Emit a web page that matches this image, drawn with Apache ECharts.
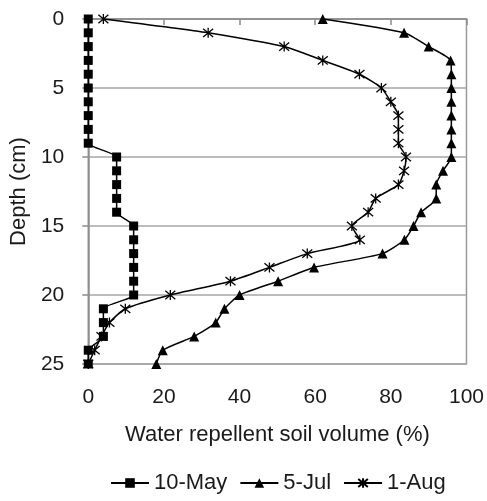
<!DOCTYPE html>
<html>
<head>
<meta charset="utf-8">
<script src="https://cdn.jsdelivr.net/npm/echarts@6/dist/echarts.min.js"></script>
<style>
  html, body { margin: 0; padding: 0; background: #fff; }
  #chart { width: 487px; height: 501px; }
</style>
</head>
<body>
<div id="chart"></div>
<script>
// depth (cm) of each sample, 0..25
var depths = [0, 1, 2, 3, 4, 5, 6, 7, 8, 9, 10, 11, 12, 13, 14, 15, 16, 17, 18, 19, 20, 21, 22, 23, 24, 25];
// water repellent soil volume (%) per depth
var may10 = [0, 0, 0, 0, 0, 0, 0, 0, 0, 0, 7.5, 7.5, 7.5, 7.5, 7.5, 12, 12, 12, 12, 12, 12, 4, 4, 4, 0, 0];
var jul5 = [62, 83.5, 90, 95.8, 96, 96, 96, 96, 96, 96, 96, 93.8, 92, 92, 88, 86, 83.6, 77.8, 59.7, 50.2, 40, 36, 33.7, 28, 19.7, 18];
var aug1 = [4, 31.7, 51.8, 62, 71.7, 77.5, 80, 82, 82, 82, 84, 83.5, 82, 76, 74, 69.7, 71.8, 57.9, 47.9, 37.6, 21.7, 9.8, 5.6, 3.5, 1.7, 0];
var seriesNames = ['10-May', '5-Jul', '1-Aug'];
var xTicks = [0, 20, 40, 60, 80, 100];
var yTicks = [0, 5, 10, 15, 20, 25];

var chart = echarts.init(document.getElementById('chart'));

function pairs(vals) {
    return vals.map(function (v, i) { return [v, depths[i]]; });
}

var asterisk = 'path://M0,0L10,10M10,0L0,10M5,-1L5,11';
var textColor = '#1a1a1a';
var font = 'Liberation Sans, Arial, sans-serif';

function lineSeries(name, vals, symbol, size, extra) {
    var s = {
        name: name,
        type: 'line',
        data: pairs(vals),
        smooth: 0.2,
        symbol: symbol,
        symbolSize: size,
        showAllSymbol: true,
        clip: false,
        lineStyle: { color: '#000', width: 1.5 },
        itemStyle: { color: '#000' }
    };
    if (extra) Object.assign(s, extra);
    return s;
}

chart.setOption({
    animation: false,
    grid: {
        left: 87, right: 20, top: 19, bottom: 137,
        show: true, borderColor: '#999', borderWidth: 1.5
    },
    xAxis: {
        type: 'value',
        min: xTicks[0], max: xTicks[xTicks.length - 1], interval: 20,
        name: 'Water repellent soil volume (%)',
        nameLocation: 'middle',
        nameGap: 60,
        nameTextStyle: { fontSize: 22, color: textColor, fontFamily: font },
        axisLine: { lineStyle: { color: '#8c8c8c', width: 1.5 } },
        axisTick: { show: true, length: 6, lineStyle: { color: '#8c8c8c', width: 1.5 } },
        axisLabel: { fontSize: 21, color: textColor, fontFamily: font, margin: 23 },
        splitLine: { show: false }
    },
    yAxis: {
        type: 'value',
        inverse: true,
        min: yTicks[0], max: yTicks[yTicks.length - 1], interval: 5,
        name: 'Depth (cm)',
        nameLocation: 'middle',
        nameGap: 55,
        nameRotate: 90,
        nameTextStyle: { fontSize: 22, color: textColor, fontFamily: font },
        axisLine: { show: true, lineStyle: { color: '#8c8c8c', width: 1.5 } },
        axisTick: { show: true, length: 6, lineStyle: { color: '#8c8c8c', width: 1.5 } },
        axisLabel: { fontSize: 21, color: textColor, fontFamily: font, margin: 24 },
        splitLine: { show: true, lineStyle: { color: '#a6a6a6', width: 1.5 } }
    },
    legend: {
        bottom: 2,
        left: 105,
        itemWidth: 38,
        itemHeight: 12,
        itemGap: 12,
        textStyle: { fontSize: 22, color: textColor, fontFamily: font },
        data: seriesNames
    },
    series: [
        lineSeries(seriesNames[0], may10, 'rect', 9),
        lineSeries(seriesNames[1], jul5, 'triangle', 10),
        lineSeries(seriesNames[2], aug1, asterisk, 10, {
            itemStyle: { color: 'none', borderColor: '#000', borderWidth: 1.3 }
        })
    ]
});
</script>
</body>
</html>
